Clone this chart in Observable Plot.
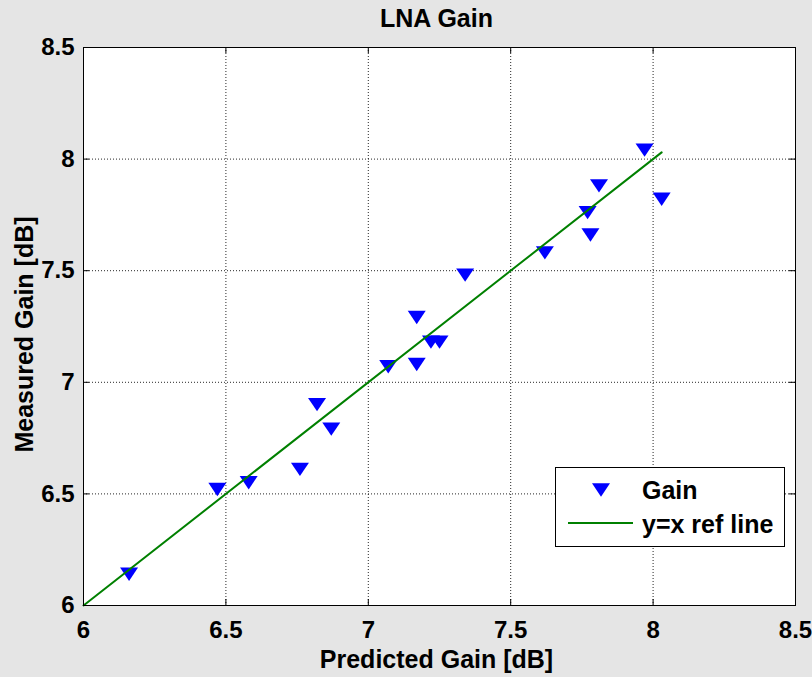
<!DOCTYPE html>
<html><head><meta charset="utf-8">
<script src="https://cdn.jsdelivr.net/npm/d3@7"></script>
<script src="https://cdn.jsdelivr.net/npm/@observablehq/plot@0.6"></script>
<style>
html,body{margin:0;padding:0;}
body{width:812px;height:677px;overflow:hidden;background:#e5e5e5;}
#chart{position:relative;width:812px;height:677px;}
</style></head><body><div id="chart"></div>
<script>
const title = "LNA Gain";
const xLabel = "Predicted Gain [dB]";
const yLabel = "Measured Gain [dB]";
const seriesNames = ["Gain", "y=x ref line"];
const predicted = [6.16, 6.47, 6.58, 6.76, 6.82, 6.87, 7.07, 7.17, 7.17, 7.22, 7.25, 7.34, 7.62, 7.77, 7.78, 7.81, 7.97, 8.03];
const measured  = [6.14, 6.52, 6.55, 6.61, 6.90, 6.79, 7.07, 7.29, 7.08, 7.18, 7.18, 7.48, 7.58, 7.76, 7.66, 7.88, 8.04, 7.82];
const refLine = [6, 8.03];
const xTicks = [6, 6.5, 7, 7.5, 8, 8.5];
const yTicks = [6, 6.5, 7, 7.5, 8, 8.5];

const points = predicted.map((p, i) => ({p, m: measured[i]}));
const triDown = {draw(ctx) { ctx.moveTo(-9, -6.7); ctx.lineTo(9, -6.7); ctx.lineTo(0, 6.7); ctx.closePath(); }};
const fmt = d => String(d);
const W = 812, H = 677, mL = 83, mR = 17, mT = 47, mB = 72;
const pw = W - mL - mR, ph = H - mT - mB;

const plot = Plot.plot({
  width: W, height: H,
  marginLeft: mL, marginRight: mR, marginTop: mT, marginBottom: mB,
  x: {domain: [6, 8.5]},
  y: {domain: [6, 8.5]},
  style: {background: "transparent", color: "black", fontFamily: "'Liberation Sans', Arial, Helvetica, sans-serif", overflow: "visible"},
  marks: [
    Plot.frame({fill: "white", stroke: "none"}),
    Plot.gridX({ticks: xTicks, stroke: "black", strokeOpacity: 0.85, strokeDasharray: "1,2"}),
    Plot.gridY({ticks: yTicks, stroke: "black", strokeOpacity: 0.85, strokeDasharray: "1,2"}),
    Plot.tickX(xTicks, {x: d => d, insetTop: ph - 6, stroke: "black"}),
    Plot.tickX(xTicks, {x: d => d, insetBottom: ph - 6, stroke: "black"}),
    Plot.tickY(yTicks, {y: d => d, insetRight: pw - 6, stroke: "black"}),
    Plot.tickY(yTicks, {y: d => d, insetLeft: pw - 6, stroke: "black"}),
    Plot.axisX({ticks: xTicks, tickFormat: fmt, tickSize: 0, tickPadding: 15, fontSize: 24, fontWeight: "bold", label: null}),
    Plot.axisY({ticks: yTicks, tickFormat: fmt, tickSize: 0, tickPadding: 9, fontSize: 24, fontWeight: "bold", label: null}),
    Plot.dot(points, {x: "p", y: "m", symbol: triDown, fill: "#0000ff", stroke: "none"}),
    Plot.line(refLine, {x: d => d, y: d => d, stroke: "#008000", strokeWidth: 2}),
    Plot.frame({stroke: "black", strokeWidth: 1}),
    Plot.text([title], {text: d => d, frameAnchor: "top", lineAnchor: "middle", textAnchor: "middle", dx: -3, dy: -29, fontSize: 25, fontWeight: "bold"}),
    Plot.text([xLabel], {text: d => d, frameAnchor: "bottom", lineAnchor: "middle", textAnchor: "middle", dx: -3, dy: 54, fontSize: 25, fontWeight: "bold"}),
    Plot.text([yLabel], {text: d => d, frameAnchor: "left", lineAnchor: "middle", textAnchor: "middle", dx: -59, dy: 8, rotate: -90, fontSize: 25, fontWeight: "bold"})
  ]
});

// legend box
const svg = d3.select(plot);
const lg = svg.append("g")
  .attr("font-family", "'Liberation Sans', Arial, Helvetica, sans-serif")
  .attr("font-weight", "bold").attr("font-size", 25).attr("text-anchor", "start");
lg.append("rect").attr("x", 555.5).attr("y", 467.5).attr("width", 229).attr("height", 79).attr("fill", "white").attr("stroke", "black");
lg.append("path").attr("d", "M-9,-6.7L9,-6.7L0,6.7Z").attr("transform", "translate(601,490)").attr("fill", "#0000ff");
lg.append("text").attr("x", 642).attr("y", 499).attr("fill", "black").text(seriesNames[0]);
lg.append("line").attr("x1", 568).attr("x2", 633).attr("y1", 523).attr("y2", 523).attr("stroke", "#008000").attr("stroke-width", 2);
lg.append("text").attr("x", 642).attr("y", 533).attr("fill", "black").text(seriesNames[1]);

document.getElementById("chart").appendChild(plot);
</script></body></html>
